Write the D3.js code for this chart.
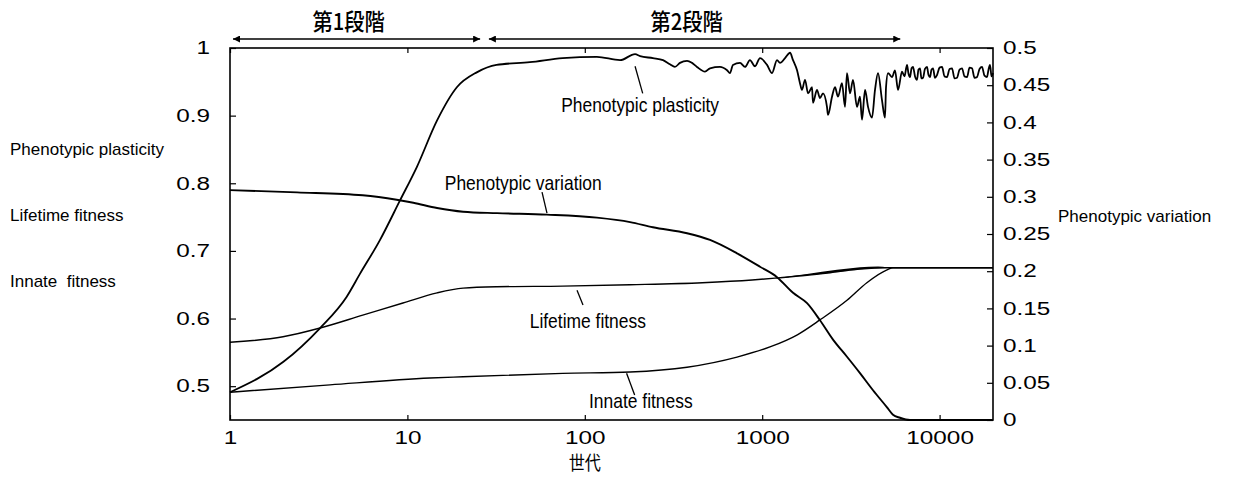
<!DOCTYPE html>
<html>
<head>
<meta charset="utf-8">
<script src="https://cdn.jsdelivr.net/npm/d3@7"></script>
<style>
	body{margin:0;background:#fff;}
</style>
</head>
<body>
<div id="chart"></div>
<script>
// x = generation (log scale)
const xDomain = [1, 20000];
const xTicks = [1, 10, 100, 1000, 10000];
const leftDomain = [0.45, 1];
const leftTicks = [0.5, 0.6, 0.7, 0.8, 0.9, 1];
const rightDomain = [0, 0.5];
const rightTicks = [0, 0.05, 0.1, 0.15, 0.2, 0.25, 0.3, 0.35, 0.4, 0.45, 0.5];
const leftTitles = ['Phenotypic plasticity', 'Lifetime fitness', 'Innate  fitness'];
const rightTitle = 'Phenotypic variation';
const xTitle = '世代';
const phases = [
	{name:'第1段階', from:1.04, to:25.7},
	{name:'第2段階', from:28.8, to:6000}
];

// left axis
const plasticity = [
	[1,0.491],[2,0.536],[3.22,0.586],[4.54,0.632],[5.4,0.666],[7,0.716],[9.1,0.775],[11.3,0.824],
	[14.7,0.893],[19,0.942],[24.6,0.964],[31.8,0.975],[49,0.979],[75,0.985],[117,0.987],[158,0.982],
	[192,0.991],[205,0.988],[242,0.985],[276,0.982],[302,0.976],[322,0.972],[344,0.978],[377,0.981],
	[402,0.978],[429,0.972],[476,0.965],[508,0.970],[578,0.972],[634,0.967],[658,0.963],[684,0.975],
	[750,0.978],[800,0.972],[853,0.982],[911,0.973],[972,0.985],[1065,0.975],[1136,0.963],[1212,0.982],
	[1260,0.978],[1345,0.985],[1435,0.993],[1492,0.982],[1572,0.967],[1633,0.948],[1675,0.938],[1744,0.953],
	[1813,0.933],[1909,0.942],[1933,0.919],[2036,0.938],[2117,0.926],[2202,0.933],[2318,0.913],[2350,0.901],
	[2475,0.928],[2573,0.942],[2675,0.928],[2817,0.948],[2929,0.913],[3006,0.963],[3126,0.933],[3250,0.953],
	[3422,0.913],[3558,0.928],[3652,0.894],[3799,0.938],[3950,0.913],[4158,0.897],[4324,0.938],[4496,0.963],
	[4734,0.923],[4922,0.897],[4989,0.942],[5118,0.963],[5391,0.957],[5606,0.967],[5829,0.938],[6138,0.965],
	[6340,0.958],[6549,0.975],[6680,0.962],[6810,0.957],[6950,0.970],[7081,0.972],[7270,0.958],[7458,0.953],
	[7600,0.968],[7755,0.970],[7900,0.955],[8063,0.956],[8270,0.969],[8492,0.972],[8660,0.960],[8830,0.957],
	[9000,0.968],[9182,0.970],[9420,0.956],[9670,0.960],[10000,0.971],[10320,0.972],[10660,0.958],[11010,0.957],
	[11380,0.969],[11750,0.970],[12140,0.955],[12540,0.956],[12950,0.968],[13380,0.970],[13820,0.958],
	[14280,0.957],[14750,0.971],[15230,0.970],[15730,0.956],[16250,0.957],[16790,0.969],[17340,0.972],
	[17910,0.959],[18500,0.957],[18870,0.968],[19240,0.975],[19620,0.958],[20000,0.963]
];
const lifetimeFitness = [
	[1,0.565],[1.99,0.573],[3.22,0.586],[5.6,0.605],[9.44,0.623],[14.7,0.638],[20.6,0.645],[32,0.647],
	[75,0.648],[180,0.650],[460,0.653],[877,0.657],[1212,0.660],[1790,0.664],[2640,0.669],[3558,0.673],
	[5054,0.675],[20000,0.675]
];
// upper edge of the wider lifetime-fitness band
const lifetimeBandTop = [
	[1212,0.660],[1790,0.666],[2640,0.672],[3558,0.676],[4500,0.677],[5054,0.676],[6000,0.675]
];
const innateFitness = [
	[1,0.491],[3.66,0.502],[13.4,0.512],[20.6,0.514],[75,0.519],[180,0.521],[377,0.528],[721,0.543],
	[1106,0.558],[1578,0.576],[2117,0.598],[3006,0.627],[3890,0.653],[5054,0.672],[5460,0.675],[20000,0.675]
];
// right axis
const phenotypicVariation = [
	[1,0.309],[2.39,0.306],[5.6,0.302],[8.7,0.296],[10.8,0.292],[14.7,0.285],[20.6,0.280],[32,0.278],
	[61,0.276],[117,0.272],[180,0.266],[242,0.259],[377,0.251],[508,0.242],[721,0.224],[972,0.206],
	[1212,0.192],[1492,0.171],[1790,0.157],[2117,0.134],[2507,0.108],[3006,0.085],[3558,0.063],
	[4214,0.040],[5054,0.017],[5460,0.007],[5980,0.003],[6810,0],[20000,0]
];
// curve labels: text anchor and leader line in data units
const notes = [
	{text:'Phenotypic plasticity', gen:205, val:0.905, from:[192,0.973], to:[212,0.933]},
	{text:'Phenotypic variation', gen:45, val:0.790, from:[57.4,0.787], to:[61.2,0.756]},
	{text:'Lifetime fitness', gen:104, val:0.586, from:[90.4,0.642], to:[97.7,0.620]},
	{text:'Innate fitness', gen:207, val:0.468, from:[172,0.519], to:[191,0.487]}
];

function EvolutionChart(divElement){
	let wSvg = 1239,
		hSvg = 477,
		plot = {left:230, right:993, top:48, bottom:420},
		tickFont = "'Liberation Sans', Arial, sans-serif",
		cjkFont = "'Noto Sans CJK JP', sans-serif";

	const scaleX = d3.scaleLog().domain(xDomain).range([plot.left, plot.right]);
	const scaleL = d3.scaleLinear().domain(leftDomain).range([plot.bottom, plot.top]);
	const scaleR = d3.scaleLinear().domain(rightDomain).range([plot.bottom, plot.top]);

	const svg = divElement.append('svg').attr('width', wSvg).attr('height', hSvg)
		.style('background', '#fff');

	// squeeze or stretch a text to look like the scanned fonts
	function squeeze(sel, k){
		sel.each(function(){
			let len = this.getComputedTextLength();
			d3.select(this).attr('textLength', len * k).attr('lengthAdjust', 'spacingAndGlyphs');
		});
	}

	// arrow heads
	svg.append('defs').append('marker')
		.attr('id', 'head')
		.attr('viewBox', '0 0 10 10')
		.attr('refX', 10).attr('refY', 5)
		.attr('markerWidth', 10).attr('markerHeight', 7)
		.attr('markerUnits', 'userSpaceOnUse')
		.attr('orient', 'auto-start-reverse')
		.append('path').attr('d', 'M0,0L10,5L0,10z').attr('fill', '#000');

	// axes with inward ticks
	function styleAxis(g){
		g.select('.domain').remove();
		g.selectAll('.tick line').attr('stroke', '#000').attr('stroke-width', 1.2);
		g.selectAll('.tick text')
			.attr('fill', '#000')
			.style('font-family', tickFont)
			.style('font-size', '18px')
			.call(squeeze, 1.35);
	}

	svg.append('g').attr('transform', `translate(${plot.left},0)`)
		.call(d3.axisLeft(scaleL).tickValues(leftTicks).tickFormat(d3.format('')).tickSizeInner(-6).tickSizeOuter(0).tickPadding(20))
		.call(styleAxis);
	svg.append('g').attr('transform', `translate(${plot.right},0)`)
		.call(d3.axisRight(scaleR).tickValues(rightTicks).tickFormat(d3.format('')).tickSizeInner(-6).tickSizeOuter(0).tickPadding(10))
		.call(styleAxis);
	svg.append('g').attr('transform', `translate(0,${plot.bottom})`)
		.call(d3.axisBottom(scaleX).tickValues(xTicks).tickFormat(d3.format('')).tickSizeInner(-5).tickSizeOuter(0).tickPadding(11))
		.call(styleAxis);
	svg.append('g').attr('transform', `translate(0,${plot.top})`)
		.call(d3.axisTop(scaleX).tickValues(xTicks).tickFormat('').tickSizeInner(-5).tickSizeOuter(0))
		.call(styleAxis);

	// frame
	svg.append('rect')
		.attr('x', plot.left).attr('y', plot.top)
		.attr('width', plot.right - plot.left).attr('height', plot.bottom - plot.top)
		.attr('fill', 'none').attr('stroke', '#000').attr('stroke-width', 1.6);

	// lifetime fitness band where the population spreads
	const bandMap = new Map(lifetimeFitness.map(d => [d[0], d[1]]));
	const bandLow = d3.scaleLog().domain(lifetimeFitness.map(d => d[0])).range(lifetimeFitness.map(d => d[1]));
	svg.append('path').datum(lifetimeBandTop)
		.attr('d', d3.area().curve(d3.curveMonotoneX)
			.x(d => scaleX(d[0]))
			.y0(d => scaleL(bandMap.has(d[0]) ? bandMap.get(d[0]) : bandLow(d[0])))
			.y1(d => scaleL(d[1])))
		.attr('fill', '#000');

	// curves
	const lineL = d3.line().curve(d3.curveMonotoneX).x(d => scaleX(d[0])).y(d => scaleL(d[1]));
	const lineR = d3.line().curve(d3.curveMonotoneX).x(d => scaleX(d[0])).y(d => scaleR(d[1]));
	[[plasticity, lineL, 1.8], [lifetimeFitness, lineL, 1.4], [innateFitness, lineL, 1.4], [phenotypicVariation, lineR, 1.9]]
		.forEach(function(c){
			svg.append('path').datum(c[0]).attr('d', c[1])
				.attr('fill', 'none').attr('stroke', '#000').attr('stroke-width', c[2])
				.attr('stroke-linejoin', 'round');
		});

	// curve labels
	notes.forEach(function(n){
		svg.append('line')
			.attr('x1', scaleX(n.from[0])).attr('y1', scaleL(n.from[1]))
			.attr('x2', scaleX(n.to[0])).attr('y2', scaleL(n.to[1]))
			.attr('stroke', '#000').attr('stroke-width', 1.3);
		svg.append('text')
			.attr('x', scaleX(n.gen)).attr('y', scaleL(n.val))
			.attr('text-anchor', 'middle')
			.style('font-family', tickFont).style('font-size', '21px')
			.text(n.text)
			.call(squeeze, 0.83);
	});

	// phase arrows and titles
	phases.forEach(function(p){
		let x1 = scaleX(p.from), x2 = scaleX(p.to);
		svg.append('line')
			.attr('x1', x1).attr('x2', x2).attr('y1', 39).attr('y2', 39)
			.attr('stroke', '#000').attr('stroke-width', 1.6)
			.attr('marker-start', 'url(#head)').attr('marker-end', 'url(#head)');
		svg.append('text')
			.attr('x', (x1 + x2) / 2 - 8).attr('y', 30)
			.attr('text-anchor', 'middle')
			.style('font-family', cjkFont).style('font-size', '23px').style('font-weight', 500)
			.text(p.name)
			.call(squeeze, 0.88);
	});

	// axis titles
	leftTitles.forEach(function(t, i){
		svg.append('text').attr('x', 10).attr('y', 155 + i * 66)
			.style('font-family', tickFont).style('font-size', '17px')
			.style('white-space', 'pre')
			.text(t);
	});
	svg.append('text').attr('x', 1058).attr('y', 222)
		.style('font-family', tickFont).style('font-size', '17px')
		.text(rightTitle);
	svg.append('text').attr('x', scaleX(100)).attr('y', 470)
		.attr('text-anchor', 'middle')
		.style('font-family', cjkFont).style('font-size', '19px')
		.text(xTitle)
		.call(squeeze, 0.85);
}

EvolutionChart(d3.select('#chart'));
</script>
</body>
</html>
